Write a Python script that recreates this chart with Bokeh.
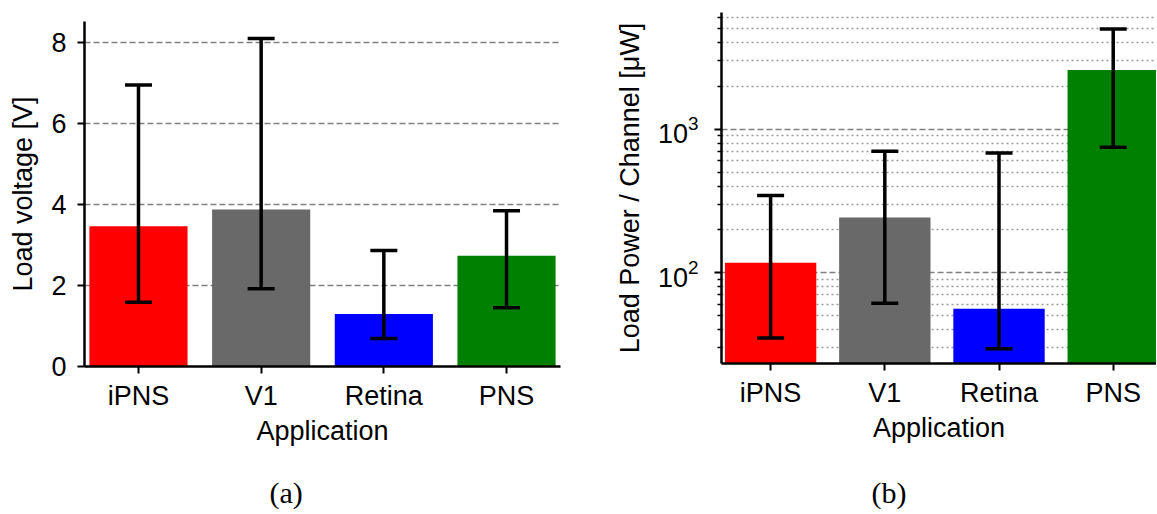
from bokeh.plotting import figure
from bokeh.models import (ColumnDataSource, Whisker, TeeHead, FixedTicker,
                          Range1d, Title)
from bokeh.layouts import row, column
from bokeh.embed import file_html
from bokeh.resources import INLINE

# ---- data ----
apps = ["iPNS", "V1", "Retina", "PNS"]
colors = ["#ff0000", "#696969", "#0000ff", "#008000"]
voltage = [3.47, 3.88, 1.30, 2.74]
voltage_lo = [1.59, 1.92, 0.69, 1.45]
voltage_hi = [6.96, 8.11, 2.87, 3.85]
power = [117, 242, 56, 2584]
power_lo = [35, 61, 29.4, 748]
power_hi = [344, 702, 681, 4990]
volt_ticks = [0, 2, 4, 6, 8]
power_major = [100, 1000]

xs = list(range(len(apps)))
overrides = {i: a for i, a in enumerate(apps)}

FONT = "Liberation Sans"
FS = "27px"


def style_axes(p):
    p.outline_line_color = None
    p.xgrid.visible = False
    for ax in (p.xaxis[0], p.yaxis[0]):
        ax.axis_line_width = 2.5
        ax.axis_line_color = "black"
        ax.major_tick_out = 7
        ax.major_tick_in = 0
        ax.major_tick_line_width = 2
        ax.major_tick_line_color = "black"
        ax.minor_tick_in = 0
        ax.major_label_text_font = FONT
        ax.major_label_text_font_size = FS
        ax.major_label_text_color = "black"
        ax.axis_label_text_font = FONT
        ax.axis_label_text_font_size = FS
        ax.axis_label_text_font_style = "normal"
        ax.axis_label_text_color = "black"
    p.xaxis.ticker = FixedTicker(ticks=xs)
    p.xaxis.major_label_overrides = overrides
    p.xaxis.minor_tick_out = 0
    p.xaxis.axis_label = "Application"
    p.xaxis.major_label_standoff = 7
    p.xaxis.axis_label_standoff = 2


def add_errors(p, src):
    p.add_layout(Whisker(base="x", upper="hi", lower="lo", source=src, level="overlay",
                         line_width=3.5, line_color="black",
                         upper_head=TeeHead(size=27, line_width=3.5, line_color="black"),
                         lower_head=TeeHead(size=27, line_width=3.5, line_color="black")))


def caption(p, text, offset, gap):
    p.add_layout(Title(text=" ", standoff=gap, text_font_size="13px"), "below")
    p.add_layout(Title(text=text, align="left", offset=offset, standoff=0, vertical_align="top",
                       text_font="Liberation Serif", text_font_size="30px",
                       text_font_style="normal", text_color="black"), "below")


# ---- (a) load voltage ----
src1 = ColumnDataSource(dict(x=xs, top=voltage, lo=voltage_lo, hi=voltage_hi, color=colors))
p1 = figure(width=600, height=512, x_range=Range1d(-0.44, 3.44), y_range=Range1d(0, 8.53),
            output_backend="svg", toolbar_location=None,
            min_border_left=84, min_border_right=40, min_border_top=21, min_border_bottom=146)
p1.vbar(x="x", top="top", bottom=0, width=0.8, fill_color="color", line_color=None, source=src1)
add_errors(p1, src1)
style_axes(p1)
p1.yaxis.ticker = FixedTicker(ticks=volt_ticks)
p1.yaxis.minor_tick_out = 0
p1.yaxis.axis_label = "Load voltage [V]"
p1.yaxis.major_label_standoff = 11
p1.yaxis.axis_label_standoff = 10
p1.ygrid.ticker = FixedTicker(ticks=volt_ticks)
p1.ygrid.grid_line_color = "#808080"
p1.ygrid.grid_line_dash = "6 3"
p1.ygrid.grid_line_width = 1.5
caption(p1, "(a)", 185, 10)

# ---- (b) load power ----
minor = [m * 10 ** k for k in (1, 2, 3) for m in range(2, 10) if 23.2 < m * 10 ** k < 6516]
src2 = ColumnDataSource(dict(x=xs, top=power, lo=power_lo, hi=power_hi, color=colors))
p2 = figure(width=556, height=512, x_range=Range1d(-0.43, 3.379), y_range=Range1d(23.2, 6516),
            y_axis_type="log", output_backend="svg", toolbar_location=None,
            min_border_left=121, min_border_right=0, min_border_top=12, min_border_bottom=149)
p2.vbar(x="x", top="top", bottom=1, width=0.8, fill_color="color", line_color=None, source=src2)
add_errors(p2, src2)
style_axes(p2)
p2.yaxis.ticker = FixedTicker(ticks=power_major, minor_ticks=minor)
p2.yaxis.minor_tick_out = 4
p2.yaxis.minor_tick_line_width = 1.5
p2.yaxis.minor_tick_line_color = "black"
p2.yaxis.axis_label = "Load Power / Channel [μW]"
p2.yaxis.major_label_standoff = 16
p2.yaxis.axis_label_standoff = 10
p2.ygrid.ticker = FixedTicker(ticks=power_major, minor_ticks=minor)
p2.ygrid.grid_line_color = "#808080"
p2.ygrid.grid_line_dash = "6 3"
p2.ygrid.grid_line_width = 1.5
p2.ygrid.minor_grid_line_color = "#9a9a9a"
p2.ygrid.minor_grid_line_dash = "2 3"
p2.ygrid.minor_grid_line_width = 1.5
caption(p2, "(b)", 150, 13)

layout = row(column(p1), column(p2))
open("out.html", "w").write(file_html(layout, INLINE))
